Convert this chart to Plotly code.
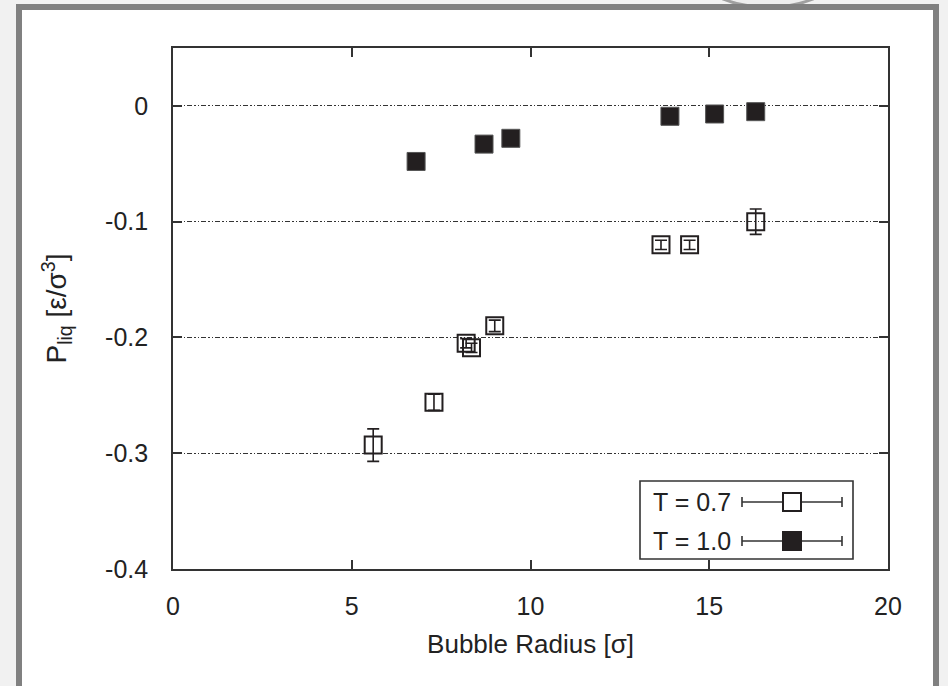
import plotly.graph_objects as go

# ---- data ----
radius_t07 = [5.6, 7.3, 8.2, 8.35, 9.0, 13.65, 14.45, 16.3]
pliq_t07 = [-0.293, -0.256, -0.205, -0.209, -0.190, -0.120, -0.120, -0.100]
err_t07 = [0.014, 0.007, 0.004, 0.004, 0.005, 0.004, 0.004, 0.011]

radius_t10 = [6.8, 8.7, 9.45, 13.9, 15.15, 16.3]
pliq_t10 = [-0.048, -0.033, -0.028, -0.009, -0.007, -0.005]
err_t10 = [0.002, 0.002, 0.002, 0.002, 0.002, 0.002]

x_ticks = [0, 5, 10, 15, 20]
x_ticktext = ["0", "5", "10", "15", "20"]
y_ticks = [-0.4, -0.3, -0.2, -0.1, 0]
y_ticktext = ["-0.4", "-0.3", "-0.2", "-0.1", "0"]
legend_labels = ["T = 0.7", "T = 1.0"]

W, H = 948, 686
L, R, T, B = 173, 888, 48, 569
FONT = "Liberation Sans, Arial, sans-serif"
INK = "#231f20"
FS = 25


def px(x):
    return (x - L) / (R - L)


def py(y):
    return (B - y) / (B - T)


fig = go.Figure()

fig.add_trace(go.Scatter(
    x=radius_t07, y=pliq_t07, mode="markers", name=legend_labels[0],
    marker=dict(symbol="square-open", size=17, color=INK, line=dict(width=2, color=INK)),
    error_y=dict(type="data", array=err_t07, visible=True, color=INK, thickness=1.6, width=6),
    showlegend=False,
))
fig.add_trace(go.Scatter(
    x=radius_t10, y=pliq_t10, mode="markers", name=legend_labels[1],
    marker=dict(symbol="square", size=18, color=INK, line=dict(width=1, color="#555")),
    error_y=dict(type="data", array=err_t10, visible=True, color=INK, thickness=1.6, width=6),
    showlegend=False,
))

shapes = []
# outer slide frame
shapes.append(dict(type="circle", xref="paper", yref="paper",
                   x0=px(706), x1=px(830), y0=py(7), y1=py(-45),
                   fillcolor="#eeeeee", line=dict(color="#a0a0a0", width=3), layer="below"))
shapes.append(dict(type="rect", xref="paper", yref="paper",
                   x0=px(19), x1=px(936), y0=py(7), y1=py(700),
                   fillcolor="white", line=dict(color="#808080", width=6), layer="below"))

# legend box
lx0, lx1, ly0, ly1 = 640, 853, 481, 559
shapes.append(dict(type="rect", xref="paper", yref="paper",
                   x0=px(lx0), x1=px(lx1), y0=py(ly0), y1=py(ly1),
                   fillcolor="white", line=dict(color="#333", width=1.6)))
annotations = []
for i, yy in enumerate([502, 541]):
    shapes.append(dict(type="line", xref="paper", yref="paper",
                       x0=px(742), x1=px(842), y0=py(yy), y1=py(yy),
                       line=dict(color="#333", width=1.6)))
    for cx in (742, 842):
        shapes.append(dict(type="line", xref="paper", yref="paper",
                           x0=px(cx), x1=px(cx), y0=py(yy - 5), y1=py(yy + 5),
                           line=dict(color="#333", width=1.6)))
    shapes.append(dict(type="rect", xref="paper", yref="paper",
                       x0=px(783), x1=px(801), y0=py(yy - 9), y1=py(yy + 9),
                       fillcolor="white" if i == 0 else INK,
                       line=dict(color=INK, width=2)))
    annotations.append(dict(xref="paper", yref="paper", x=px(733), y=py(yy),
                            text=legend_labels[i], showarrow=False,
                            xanchor="right", yanchor="middle",
                            font=dict(family=FONT, size=FS, color="#222")))

fig.update_layout(
    width=W, height=H,
    margin=dict(l=L, r=W - R, t=T, b=H - B),
    paper_bgcolor="#f1f1f1",
    plot_bgcolor="white",
    shapes=shapes,
    annotations=annotations,
    font=dict(family=FONT, size=FS, color="#222"),
    xaxis=dict(
        range=[0, 20], tickvals=x_ticks, ticktext=x_ticktext,
        ticks="inside", ticklen=9, tickwidth=1.5, tickcolor="#333",
        showline=True, linecolor="#333", linewidth=1.6, mirror="ticks",
        showgrid=False, zeroline=False, ticklabelstandoff=14,
        title=dict(text="Bubble Radius [σ]", standoff=16, font=dict(size=26)),
        tickfont=dict(size=FS),
    ),
    yaxis=dict(
        range=[-0.4, 0.05], tickvals=y_ticks, ticktext=y_ticktext,
        ticks="inside", ticklen=9, tickwidth=1.5, tickcolor="#333",
        showline=True, linecolor="#333", linewidth=1.6, mirror="ticks",
        showgrid=True, gridcolor="#333", gridwidth=1.2,
        griddash="5px,2px,1.5px,2px,1.5px,2px",
        zeroline=False, ticklabelstandoff=18,
        title=dict(text="P<sub>liq</sub> [ε/σ<sup>3</sup>]", standoff=30, font=dict(size=28)),
        tickfont=dict(size=FS),
    ),
)

fig.write_html("out.html", config={"displayModeBar": False},
               post_script="document.body.style.margin='0';")
